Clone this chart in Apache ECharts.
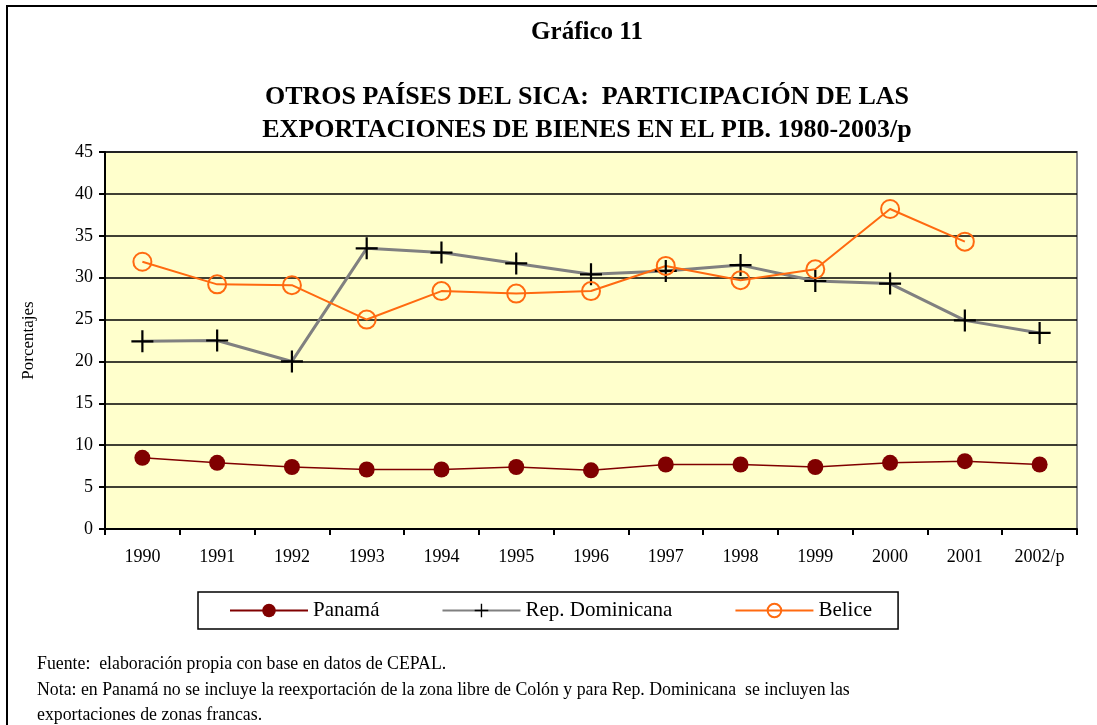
<!DOCTYPE html>
<html lang="es">
<head>
<meta charset="UTF-8">
<script src="https://cdn.jsdelivr.net/npm/echarts@6/dist/echarts.min.js"></script>
<style>
  body { margin: 0; background: #fff; }
  #main { width: 1097px; height: 725px; }
</style>
</head>
<body>
<div id="main"></div>
<script>
// categorias y valores (% del PIB)
const years = ['1990', '1991', '1992', '1993', '1994', '1995', '1996', '1997', '1998', '1999', '2000', '2001', '2002/p'];
const panama = [8.5, 7.9, 7.4, 7.1, 7.1, 7.4, 7.0, 7.7, 7.7, 7.4, 7.9, 8.1, 7.7];
const repDominicana = [22.4, 22.5, 20.0, 33.5, 33.0, 31.7, 30.4, 30.8, 31.5, 29.6, 29.3, 24.9, 23.4];
const belice = [31.9, 29.2, 29.1, 25.0, 28.4, 28.1, 28.4, 31.4, 29.7, 31.0, 38.2, 34.3, null];

const serif = '"Liberation Serif", "Times New Roman", serif';
const plus = 'path://M9,0 L11,0 L11,9 L20,9 L20,11 L11,11 L11,20 L9,20 L9,11 L0,11 L0,9 L9,9 Z';

var myChart = echarts.init(document.getElementById('main'));
myChart.setOption({
    backgroundColor: '#fff',
    animation: false,
    graphic: [{
        type: 'rect',
        shape: { x: 7, y: 6, width: 1200, height: 800 },
        style: { fill: 'none', stroke: '#000', lineWidth: 2 }
    }, {
        type: 'text',
        x: 587,
        y: 20,
        style: {
            text: 'Gráfico 11',
            font: 'bold 25px ' + serif,
            textAlign: 'center',
            fill: '#000'
        }
    }, {
        type: 'text',
        x: 587,
        y: 81,
        style: {
            text: 'OTROS PAÍSES DEL SICA:  PARTICIPACIÓN DE LAS\nEXPORTACIONES DE BIENES EN EL PIB. 1980-2003/p',
            font: 'bold 26px ' + serif,
            lineHeight: 33,
            textAlign: 'center',
            fill: '#000'
        }
    }, {
        type: 'text',
        left: 37,
        top: 652,
        style: {
            text: 'Fuente:  elaboración propia con base en datos de CEPAL.\nNota: en Panamá no se incluye la reexportación de la zona libre de Colón y para Rep. Dominicana  se incluyen las\nexportaciones de zonas francas.',
            font: '17.8px ' + serif,
            lineHeight: 25.5,
            fill: '#000'
        }
    }],
    legend: {
        left: 198,
        top: 592,
        width: 700,
        height: 40,
        itemGap: 62,
        itemWidth: 78,
        itemHeight: 17,
        padding: [8, 26, 8, 31],
        borderColor: '#000',
        borderWidth: 1.5,
        textStyle: { fontFamily: serif, fontSize: 21, color: '#000' },
        data: ['Panamá', 'Rep. Dominicana', 'Belice']
    },
    grid: {
        left: 105,
        right: 20,
        top: 152,
        bottom: 196,
        show: true,
        backgroundColor: '#ffffcc',
        borderColor: '#888',
        borderWidth: 2
    },
    xAxis: {
        type: 'category',
        data: years,
        boundaryGap: true,
        axisLine: { lineStyle: { color: '#000', width: 2 } },
        axisTick: { show: true, length: 6, lineStyle: { color: '#000', width: 2 } },
        axisLabel: { fontFamily: serif, fontSize: 18, color: '#000', margin: 19 }
    },
    yAxis: {
        type: 'value',
        min: 0,
        max: 45,
        interval: 5,
        name: 'Porcentajes',
        nameLocation: 'middle',
        nameGap: 68,
        nameTextStyle: { fontFamily: serif, fontSize: 17, color: '#000' },
        axisLine: { show: true, lineStyle: { color: '#000', width: 2 } },
        axisTick: { show: true, length: 6, lineStyle: { color: '#000', width: 2 } },
        axisLabel: { fontFamily: serif, fontSize: 18, color: '#000', margin: 12 },
        splitLine: { lineStyle: { color: '#000', width: 1.5 } }
    },
    series: [{
        name: 'Panamá',
        type: 'line',
        data: panama,
        symbol: 'circle',
        symbolSize: 16,
        itemStyle: { color: '#800000' },
        lineStyle: { color: '#800000', width: 1.5 }
    }, {
        name: 'Rep. Dominicana',
        type: 'line',
        data: repDominicana,
        symbol: plus,
        symbolSize: 22,
        itemStyle: { color: '#000' },
        lineStyle: { color: '#808080', width: 3 }
    }, {
        name: 'Belice',
        type: 'line',
        data: belice,
        symbol: 'circle',
        symbolSize: 18,
        itemStyle: { color: 'rgba(0,0,0,0)', borderColor: '#ff6a10', borderWidth: 2 },
        lineStyle: { color: '#ff6a10', width: 2 }
    }]
});
</script>
</body>
</html>
